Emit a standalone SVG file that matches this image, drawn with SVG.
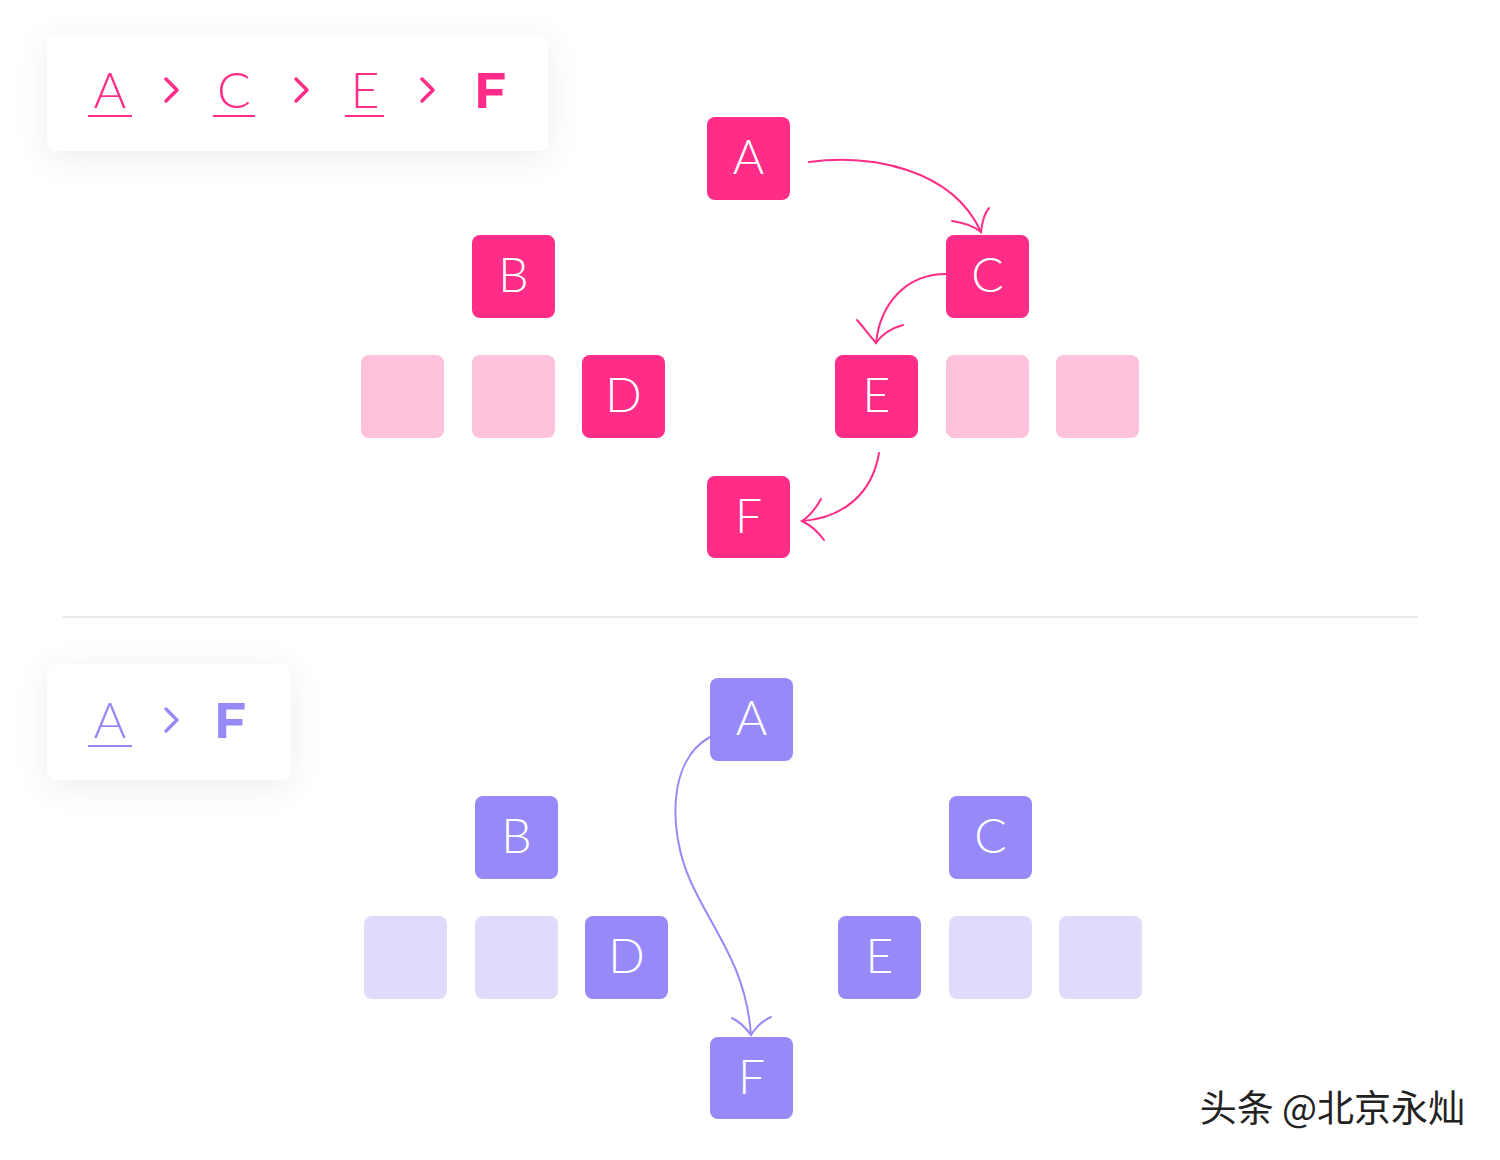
<svg xmlns="http://www.w3.org/2000/svg" width="1500" height="1160" viewBox="0 0 1500 1160">
<style>
.pk{fill:#FF2D87}
.lpk{fill:#FFC1DB}
.pu{fill:#9889F8}
.lpu{fill:#DFDBFB}
.lbl{font-family:Lato,"Open Sans",sans-serif;font-weight:300;font-size:48px;fill:#fff;text-anchor:middle}
.crumb{font-family:Lato,"Open Sans",sans-serif;font-weight:300;font-size:50px;text-anchor:middle}
.crumbB{font-family:Montserrat,"Liberation Sans",Arial,sans-serif;font-weight:700;font-size:50px;text-anchor:middle}
.cp{stroke:#FF2D87;stroke-width:2;fill:none;stroke-linecap:round}
.cv{stroke:#9889F8;stroke-width:2;fill:none;stroke-linecap:round}
.chev{fill:none;stroke-width:3.5;stroke-linecap:round;stroke-linejoin:round}
.wm{font-family:"Noto Sans CJK SC",sans-serif;font-size:37px;text-anchor:end}
</style>
<defs>
<filter id="sh" x="-30%" y="-60%" width="160%" height="220%">
<feDropShadow dx="0" dy="6" stdDeviation="16" flood-color="#000" flood-opacity="0.07"/>
</filter>
</defs>
<rect width="1500" height="1160" fill="#fff"/>

<g id="card-top">
<rect x="47" y="35" width="501" height="116" rx="10" fill="#fff" filter="url(#sh)"/>
<text class="crumb" x="110" y="108" fill="#FF2D87">A</text>
<rect x="88" y="115" width="44" height="2" fill="#FF2D87"/>
<path class="chev" stroke="#FF2D87" d="M166,79 L177,90 L166,101"/>
<text class="crumb" x="234" y="108" fill="#FF2D87">C</text>
<rect x="213" y="115" width="42" height="2" fill="#FF2D87"/>
<path class="chev" stroke="#FF2D87" d="M296,79 L307,90 L296,101"/>
<text class="crumb" x="365" y="108" fill="#FF2D87">E</text>
<rect x="345" y="115" width="39" height="2" fill="#FF2D87"/>
<path class="chev" stroke="#FF2D87" d="M422,79 L433,90 L422,101"/>
<text class="crumbB" x="490" y="108" fill="#FF2D87">F</text>
</g>

<g id="top-A"><rect class="pk" x="707" y="117" width="83" height="83" rx="8"/><text class="lbl" x="748.5" y="174">A</text></g>
<g id="top-B"><rect class="pk" x="472" y="235" width="83" height="83" rx="8"/><text class="lbl" x="513.5" y="292">B</text></g>
<g id="top-C"><rect class="pk" x="946" y="235" width="83" height="83" rx="8"/><text class="lbl" x="987.5" y="292">C</text></g>
<g id="top-L1"><rect class="lpk" x="361" y="355" width="83" height="83" rx="8"/></g>
<g id="top-L2"><rect class="lpk" x="472" y="355" width="83" height="83" rx="8"/></g>
<g id="top-D"><rect class="pk" x="582" y="355" width="83" height="83" rx="8"/><text class="lbl" x="623.5" y="412">D</text></g>
<g id="top-E"><rect class="pk" x="835" y="355" width="83" height="83" rx="8"/><text class="lbl" x="876.5" y="412">E</text></g>
<g id="top-L3"><rect class="lpk" x="946" y="355" width="83" height="83" rx="8"/></g>
<g id="top-L4"><rect class="lpk" x="1056" y="355" width="83" height="83" rx="8"/></g>
<g id="top-F"><rect class="pk" x="707" y="476" width="83" height="82" rx="8"/><text class="lbl" x="748.5" y="533">F</text></g>

<line x1="63" y1="617" x2="1418" y2="617" stroke="#E2E2E2" stroke-width="1.5"/>

<g id="card-bottom">
<rect x="47" y="664" width="244" height="116" rx="10" fill="#fff" filter="url(#sh)"/>
<text class="crumb" x="110" y="738" fill="#9889F8">A</text>
<rect x="88" y="745" width="44" height="2" fill="#9889F8"/>
<path class="chev" stroke="#9889F8" d="M166,709 L177,720 L166,731"/>
<text class="crumbB" x="230" y="738" fill="#9889F8">F</text>
</g>

<g id="bot-A"><rect class="pu" x="710" y="678" width="83" height="83" rx="8"/><text class="lbl" x="751.5" y="735">A</text></g>
<g id="bot-B"><rect class="pu" x="475" y="796" width="83" height="83" rx="8"/><text class="lbl" x="516.5" y="853">B</text></g>
<g id="bot-C"><rect class="pu" x="949" y="796" width="83" height="83" rx="8"/><text class="lbl" x="990.5" y="853">C</text></g>
<g id="bot-L1"><rect class="lpu" x="364" y="916" width="83" height="83" rx="8"/></g>
<g id="bot-L2"><rect class="lpu" x="475" y="916" width="83" height="83" rx="8"/></g>
<g id="bot-D"><rect class="pu" x="585" y="916" width="83" height="83" rx="8"/><text class="lbl" x="626.5" y="973">D</text></g>
<g id="bot-E"><rect class="pu" x="838" y="916" width="83" height="83" rx="8"/><text class="lbl" x="879.5" y="973">E</text></g>
<g id="bot-L3"><rect class="lpu" x="949" y="916" width="83" height="83" rx="8"/></g>
<g id="bot-L4"><rect class="lpu" x="1059" y="916" width="83" height="83" rx="8"/></g>
<g id="bot-F"><rect class="pu" x="710" y="1037" width="83" height="82" rx="8"/><text class="lbl" x="751.5" y="1094">F</text></g>

<g id="connectors">
<path class="cp" d="M809,162 C870,154 952,168 981,232"/>
<path class="cp" d="M952,221 C966,223 975,227 981,232 C982,222 984,214 989,208"/>
<path class="cp" d="M946,274 C905,274 880,305 876,343"/>
<path class="cp" d="M857,320 C864,328 870,336 876,343 C882,334 892,328 903,325"/>
<path class="cp" d="M879,453 C872,495 842,518 802,521"/>
<path class="cp" d="M821,499 C816,508 810,516 802,521 C812,526 819,533 824,540"/>
<path class="cv" d="M710,737 C668,760 668,830 690,880 C712,930 746,965 751,1035"/>
<path class="cv" d="M732,1018 C740,1022 746,1028 751,1035 C756,1027 762,1021 771,1017"/>
</g>

<text class="wm" x="1467" y="1123" fill="#fff" stroke="#fff" stroke-width="3">头条 @北京永灿</text>
<text class="wm" x="1465" y="1122" fill="#222">头条 @北京永灿</text>
</svg>
